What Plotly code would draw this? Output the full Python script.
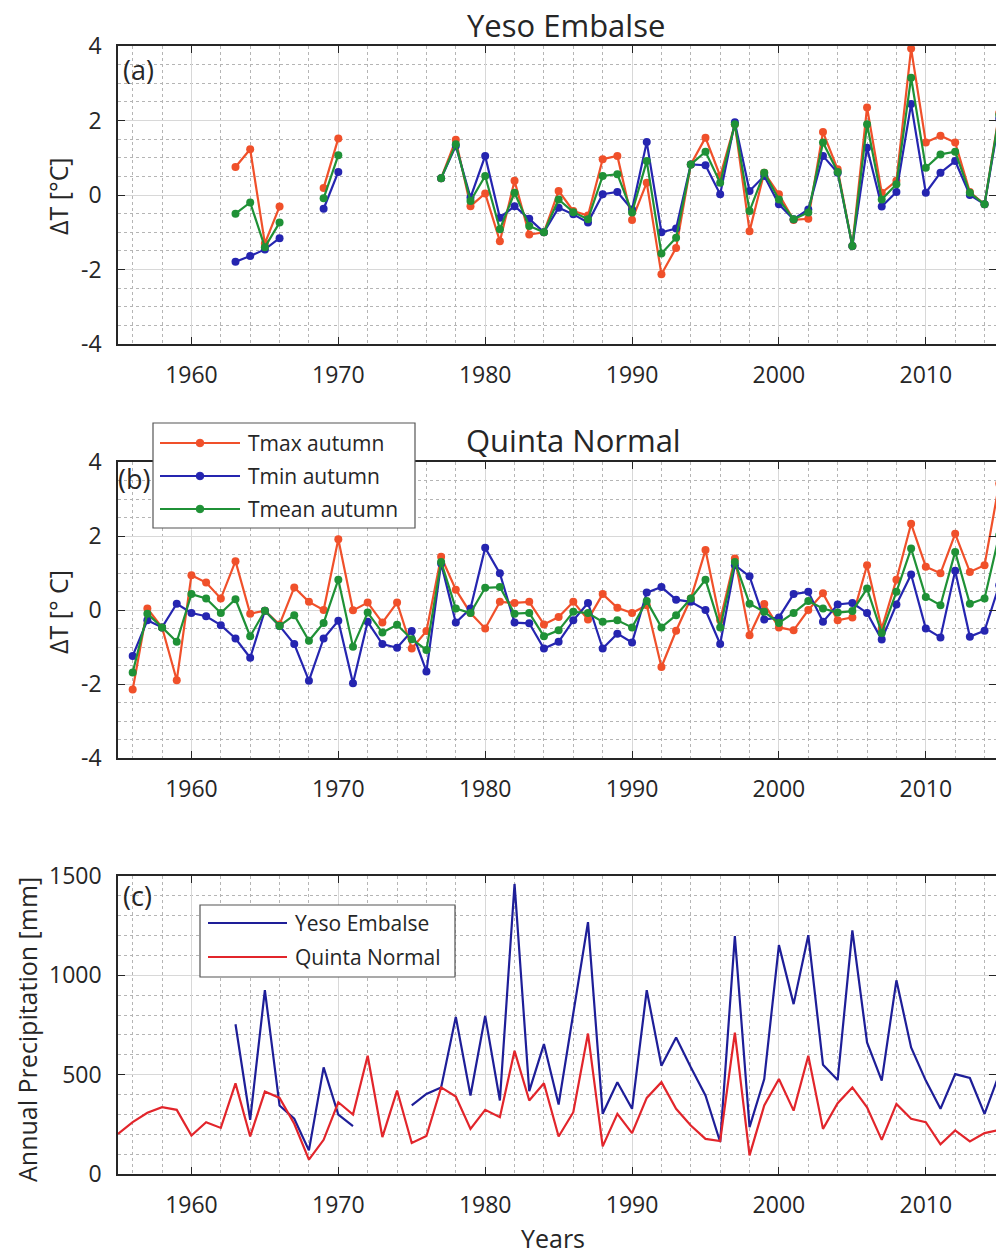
import plotly.graph_objects as go

# ---------------- data ----------------
years_a = list(range(1955, 2016))
tmax_yeso = [None, None, None, None, None, None, None, None,
             0.75, 1.23, -1.30, -0.31, None, None, 0.19, 1.52,
             None, None, None, None, None, None,
             0.45, 1.48, -0.30, 0.04, -1.24, 0.38, -1.06, -1.00, 0.11, -0.43,
             -0.55, 0.96, 1.05, -0.67, 0.33, -2.13, -1.42, 0.82, 1.54, 0.51,
             1.90, -0.97, 0.60, 0.02, -0.67, -0.64, 1.69, 0.69, -1.37, 2.35,
             0.06, 0.38, 3.93, 1.41, 1.59, 1.41, 0.08, -0.25, 2.20]
tmin_yeso = [None, None, None, None, None, None, None, None,
             -1.79, -1.64, -1.46, -1.16, None, None, -0.37, 0.62,
             None, None, None, None, None, None,
             0.45, 1.32, -0.07, 1.05, -0.61, -0.30, -0.64, -1.00, -0.34, -0.52,
             -0.74, 0.02, 0.08, -0.39, 1.42, -1.00, -0.90, 0.82, 0.80, 0.02,
             1.95, 0.11, 0.51, -0.25, -0.65, -0.39, 1.05, 0.60, -1.37, 1.27,
             -0.31, 0.08, 2.44, 0.06, 0.60, 0.91, 0.00, -0.25, 2.05]
tmean_yeso = [None, None, None, None, None, None, None, None,
              -0.50, -0.20, -1.40, -0.74, None, None, -0.09, 1.07,
              None, None, None, None, None, None,
              0.45, 1.36, -0.16, 0.51, -0.92, 0.06, -0.83, -1.00, -0.12, -0.46,
              -0.65, 0.51, 0.56, -0.47, 0.91, -1.57, -1.15, 0.82, 1.16, 0.33,
              1.90, -0.43, 0.60, -0.12, -0.65, -0.47, 1.41, 0.62, -1.37, 1.90,
              -0.12, 0.29, 3.15, 0.73, 1.09, 1.16, 0.06, -0.25, 2.15]

years_b = list(range(1956, 2016))
tmax_qn = [-2.15, 0.04, -0.47, -1.90, 0.94, 0.74, 0.31, 1.32, -0.10, -0.02,
           -0.39, 0.61, 0.22, 0.00, 1.91, -0.01, 0.20, -0.34, 0.20, -1.04,
           -0.57, 1.44, 0.55, -0.08, -0.50, 0.22, 0.19, 0.22, -0.39, -0.19,
           0.22, -0.26, 0.43, 0.06, -0.08, 0.13, -1.54, -0.56, 0.31, 1.62,
           -0.28, 1.39, -0.68, 0.16, -0.47, -0.55, 0.00, 0.45, -0.28, -0.20,
           1.21, -0.50, 0.82, 2.33, 1.17, 0.99, 2.06, 1.03, 1.21, 3.42]
tmin_qn = [-1.24, -0.28, -0.47, 0.17, -0.08, -0.17, -0.41, -0.77, -1.29, -0.02,
           -0.43, -0.92, -1.91, -0.77, -0.29, -1.98, -0.32, -0.92, -1.02, -0.57,
           -1.66, 1.26, -0.34, 0.04, 1.68, 0.99, -0.34, -0.36, -1.04, -0.86,
           -0.28, 0.19, -1.04, -0.64, -0.88, 0.47, 0.62, 0.28, 0.22, 0.00,
           -0.92, 1.21, 0.91, -0.26, -0.20, 0.43, 0.49, -0.32, 0.15, 0.19,
           -0.08, -0.80, 0.15, 0.96, -0.50, -0.74, 1.06, -0.72, -0.56, 0.67]
tmean_qn = [-1.69, -0.10, -0.47, -0.86, 0.43, 0.31, -0.08, 0.29, -0.71, -0.02,
            -0.43, -0.14, -0.83, -0.35, 0.82, -0.99, -0.07, -0.61, -0.40, -0.79,
            -1.08, 1.30, 0.04, -0.08, 0.60, 0.62, -0.10, -0.08, -0.71, -0.55,
            -0.05, -0.08, -0.32, -0.28, -0.47, 0.24, -0.47, -0.14, 0.31, 0.82,
            -0.47, 1.30, 0.17, -0.05, -0.35, -0.08, 0.24, 0.04, -0.07, -0.03,
            0.58, -0.62, 0.49, 1.66, 0.35, 0.13, 1.57, 0.17, 0.31, 2.02]

years_c = list(range(1955, 2016))
precip_yeso = [None, None, None, None, None, None, None, None, 754, 273,
               925, 345, 278, 119, 537, 299, 241, None, None, None,
               345, 403, 436, 791, 395, 796, 370, 1460, 417, 654,
               350, 820, 1268, 303, 462, 328, 925, 545, 687, 537,
               395, 161, 1197, 236, 478, 1152, 855, 1202, 550, 473,
               1226, 662, 470, 975, 637, 470, 328, 503, 483, 303, 503]
precip_qn = [202, 261, 308, 336, 323, 194, 261, 232, 456, 189,
             415, 383, 253, 72, 172, 361, 299, 595, 186, 420,
             156, 191, 436, 390, 227, 323, 286, 620, 370, 457,
             189, 311, 707, 139, 303, 206, 383, 462, 328, 244,
             177, 166, 712, 94, 345, 478, 319, 595, 227, 356,
             436, 336, 172, 353, 278, 261, 149, 219, 164, 206, 222]

temp_names = ["Tmax autumn", "Tmin autumn", "Tmean autumn"]
precip_names = ["Yeso Embalse", "Quinta Normal"]
x_ticks = [1960, 1970, 1980, 1990, 2000, 2010]
t_ticks = [-4, -2, 0, 2, 4]
t_ticklabels = ["-4", "-2", "0", "2", "4"]
p_ticks = [0, 500, 1000, 1500]

# ---------------- style ----------------
W, H = 996, 1254
C_MAX = "#F0502A"
C_MIN = "#2525B0"
C_MEAN = "#1F9136"
C_PY = "#1E1E98"
C_PQ = "#E2252B"
FONT = "Open Sans"
AXC = "#262626"


def px(x):
    return x / W


def py(y):
    return 1 - y / H


X_LEFT = 118
panels = [(46, 344), (462, 758), (876, 1174)]

fig = go.Figure()

for ys, name, col in zip([tmax_yeso, tmin_yeso, tmean_yeso], temp_names, [C_MAX, C_MIN, C_MEAN]):
    fig.add_trace(go.Scatter(x=years_a, y=ys, name=name, mode="lines+markers",
                             line=dict(color=col, width=2.2), marker=dict(color=col, size=8),
                             xaxis="x", yaxis="y", showlegend=False))
for ys, name, col in zip([tmax_qn, tmin_qn, tmean_qn], temp_names, [C_MAX, C_MIN, C_MEAN]):
    fig.add_trace(go.Scatter(x=years_b, y=ys, name=name, mode="lines+markers",
                             line=dict(color=col, width=2.2), marker=dict(color=col, size=8),
                             xaxis="x2", yaxis="y2", showlegend=False))
for ys, name, col in zip([precip_yeso, precip_qn], precip_names, [C_PY, C_PQ]):
    fig.add_trace(go.Scatter(x=years_c, y=ys, name=name, mode="lines",
                             line=dict(color=col, width=2.2),
                             xaxis="x3", yaxis="y3", showlegend=False))

tickfont = dict(family=FONT, size=23, color=AXC)
xcommon = dict(range=[1955, 2014.78], tickvals=x_ticks, ticks="inside", ticklen=7,
               tickwidth=1, tickcolor=AXC, showline=True, linecolor=AXC, linewidth=1.5,
               mirror="ticks", showgrid=True, gridcolor="#d8d8d8", gridwidth=1,
               zeroline=False, tickfont=tickfont, ticklabelstandoff=10, automargin=False,
               minor=dict(dtick=2, tick0=1956, showgrid=True, gridcolor="#b5b5b5",
                          griddash="dot", gridwidth=1),
               domain=[px(X_LEFT), 1.0])
ycommon = dict(ticks="inside", ticklen=7, tickwidth=1, tickcolor=AXC, showline=True,
               linecolor=AXC, linewidth=1.5, mirror="ticks", showgrid=True,
               gridcolor="#d8d8d8", gridwidth=1, zeroline=False, tickfont=tickfont,
               ticklabelstandoff=10, automargin=False)

layout = dict(width=W, height=H, margin=dict(l=0, r=0, t=0, b=0, pad=0, autoexpand=False),
              plot_bgcolor="white", paper_bgcolor="white", showlegend=False,
              font=dict(family=FONT, color=AXC))
for i, (top, bot) in enumerate(panels):
    sfx = "" if i == 0 else str(i + 1)
    layout["xaxis" + sfx] = dict(xcommon, anchor="y" + sfx)
    yd = dict(ycommon, anchor="x" + sfx, domain=[py(bot), py(top)])
    if i < 2:
        yd.update(range=[-4, 4], tickvals=t_ticks, ticktext=t_ticklabels,
                  minor=dict(dtick=0.5, tick0=0, showgrid=True, gridcolor="#b5b5b5",
                             griddash="dot", gridwidth=1))
    else:
        yd.update(range=[0, 1500], tickvals=p_ticks,
                  minor=dict(dtick=100, tick0=0, showgrid=True, gridcolor="#b5b5b5",
                             griddash="dot", gridwidth=1))
    layout["yaxis" + sfx] = yd
fig.update_layout(**layout)

ann = []


def text(x, y, s, size, anchor="center", angle=0):
    ann.append(dict(x=px(x), y=py(y), xref="paper", yref="paper", text=s, showarrow=False,
                    xanchor=anchor, yanchor="middle", textangle=angle,
                    font=dict(family=FONT, size=size, color=AXC)))


text(566, 25, "Yeso Embalse", 31)
text(573, 440, "Quinta Normal", 31)
text(121, 69, "(a)", 27, "left")
text(116, 479, "(b)", 27, "left")
text(121, 895, "(c)", 27, "left")
text(58, 196, "ΔT [°C]", 25, angle=-90)
text(58, 612, "ΔT [° C]", 25, angle=-90)
text(27, 1030, "Annual Precipitation [mm]", 25, angle=-90)
text(553, 1238, "Years", 25)

shapes = []


def legend_box(x0, y0, x1, y1, rows, line_x0, line_x1, text_x, markers):
    shapes.append(dict(type="rect", xref="paper", yref="paper", x0=px(x0), x1=px(x1),
                       y0=py(y1), y1=py(y0), fillcolor="white",
                       line=dict(color="#555555", width=1.2), layer="above"))
    for label, col, ry in rows:
        shapes.append(dict(type="line", xref="paper", yref="paper", x0=px(line_x0),
                           x1=px(line_x1), y0=py(ry), y1=py(ry),
                           line=dict(color=col, width=2.2), layer="above"))
        if markers:
            cx = (line_x0 + line_x1) / 2
            r = 3.8
            shapes.append(dict(type="circle", xref="paper", yref="paper", x0=px(cx - r),
                               x1=px(cx + r), y0=py(ry + r), y1=py(ry - r),
                               fillcolor=col, line=dict(color=col, width=1), layer="above"))
        text(text_x, ry, label, 21, "left")


legend_box(153, 423, 415, 528,
           [(temp_names[0], C_MAX, 443), (temp_names[1], C_MIN, 476), (temp_names[2], C_MEAN, 509)],
           160, 240, 246, True)
legend_box(200, 905, 455, 977,
           [(precip_names[0], C_PY, 923), (precip_names[1], C_PQ, 957)],
           208, 287, 293, False)

fig.update_layout(annotations=ann, shapes=shapes)
fig.write_html("out.html")
